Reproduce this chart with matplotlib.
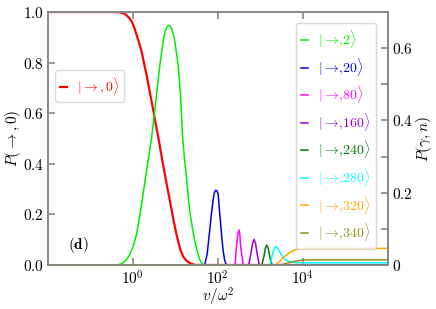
import numpy as np
import matplotlib
matplotlib.use("Agg")
import matplotlib.pyplot as plt
from matplotlib.ticker import FixedLocator, FuncFormatter

plt.rcParams['mathtext.fontset'] = 'cm'
plt.rcParams['font.family'] = ['cmr10', 'DejaVu Serif']
plt.rcParams['axes.formatter.use_mathtext'] = True

# ---- data (log10 of v/omega^2, probability) ----
red_lx = [-2.0, -0.5, -0.306, -0.22, -0.15, -0.09, -0.03, 0.03, 0.086, 0.145, 0.204, 0.26,
          0.322, 0.38, 0.44, 0.5, 0.557, 0.6, 0.655, 0.713, 0.77, 0.83, 0.89, 0.948,
          1.006, 1.066, 1.12, 1.184, 1.26, 1.34, 1.42, 1.5, 6.0]
red_y = [1.0, 1.0, 0.999, 0.995, 0.987, 0.977, 0.963, 0.94, 0.91, 0.879, 0.845, 0.8,
         0.752, 0.7, 0.647, 0.594, 0.54, 0.505, 0.45, 0.396, 0.343, 0.291, 0.238, 0.186,
         0.137, 0.094, 0.06, 0.034, 0.017, 0.008, 0.002, 0.0, 0.0]

n2_lx = [-2.0, -0.5, -0.36, -0.27, -0.17, -0.07, 0.01, 0.086, 0.145, 0.204, 0.26, 0.32,
         0.38, 0.44, 0.5, 0.557, 0.635, 0.713, 0.75, 0.79, 0.825, 0.855, 0.885, 0.92,
         0.955, 0.988, 1.066, 1.122, 1.17, 1.22, 1.264, 1.3, 1.341, 1.4, 1.459, 1.52,
         1.576, 1.65, 6.0]
n2_y = [0.0, 0.0, 0.0005, 0.003, 0.012, 0.029, 0.053, 0.084, 0.124, 0.167, 0.212, 0.259,
        0.305, 0.351, 0.41, 0.471, 0.553, 0.619, 0.641, 0.656, 0.662, 0.663, 0.661, 0.651,
        0.637, 0.619, 0.553, 0.471, 0.356, 0.29, 0.241, 0.195, 0.148, 0.104, 0.066, 0.036,
        0.015, 0.0, 0.0]

n20_lx = [-2.0, 1.69, 1.75, 1.812, 1.85, 1.89, 1.92, 1.953, 1.98, 2.008, 2.03, 2.06,
          2.1, 2.125, 2.16, 2.2, 6.0]
n20_y = [0.0, 0.0, 0.03, 0.097, 0.14, 0.18, 0.2, 0.207, 0.205, 0.198, 0.165, 0.125,
         0.07, 0.042, 0.015, 0.0, 0.0]

n80_lx = [-2.0, 2.41, 2.44, 2.47, 2.5, 2.52, 2.541, 2.6, 6.0]
n80_y = [0.0, 0.0, 0.05, 0.085, 0.097, 0.085, 0.05, 0.0, 0.0]

n160_lx = [-2.0, 2.73, 2.78, 2.82, 2.855, 2.89, 2.93, 2.98, 6.0]
n160_y = [0.0, 0.0, 0.03, 0.06, 0.071, 0.06, 0.03, 0.0, 0.0]

n240_lx = [-2.0, 3.04, 3.09, 3.125, 3.155, 3.19, 3.23, 3.28, 6.0]
n240_y = [0.0, 0.0, 0.025, 0.048, 0.055, 0.046, 0.02, 0.0, 0.0]

n280_lx = [-2.0, 3.23, 3.28, 3.33, 3.365, 3.41, 3.47, 3.53, 3.6, 3.69, 3.8, 4.0, 6.0]
n280_y = [0.0, 0.0, 0.025, 0.046, 0.051, 0.047, 0.034, 0.023, 0.015, 0.009, 0.007, 0.006, 0.006]

n320_lx = [-2.0, 3.36, 3.45, 3.53, 3.61, 3.69, 3.77, 3.84, 3.95, 4.08, 4.3, 6.0]
n320_y = [0.0, 0.0, 0.009, 0.019, 0.027, 0.034, 0.039, 0.043, 0.045, 0.046, 0.046, 0.046]

n340_lx = [-2.0, 3.46, 3.6, 3.77, 3.9, 4.08, 4.3, 6.0]
n340_y = [0.0, 0.0, 0.004, 0.009, 0.012, 0.014, 0.014, 0.014]

series = [
    (n2_lx, n2_y, '#00ee00', r'$|\rightarrow\!,\!2\rangle$'),
    (n20_lx, n20_y, '#0000ee', r'$|\rightarrow\!,\!20\rangle$'),
    (n80_lx, n80_y, '#ff00ff', r'$|\rightarrow\!,\!80\rangle$'),
    (n160_lx, n160_y, '#9a00d0', r'$|\rightarrow\!,\!160\rangle$'),
    (n240_lx, n240_y, '#007a00', r'$|\rightarrow\!,\!240\rangle$'),
    (n280_lx, n280_y, '#00ffff', r'$|\rightarrow\!,\!280\rangle$'),
    (n320_lx, n320_y, '#ffa500', r'$|\rightarrow\!,\!320\rangle$'),
    (n340_lx, n340_y, '#8f8f1f', r'$|\rightarrow\!,\!340\rangle$'),
]

fig = plt.figure(figsize=(4.36, 3.09), dpi=100)
ax = fig.add_axes([48/436, 1-265/309, (387.5-48)/436, (265-12)/309])
ax2 = ax.twinx()

ax.plot(10**np.array(red_lx), red_y, color='red', lw=1.6, label=r'$|\rightarrow, 0\rangle$')
for lx, y, c, lab in series:
    ax2.plot(10**np.array(lx), y, color=c, lw=1.1, label=lab)

ax.set_xscale('log')
ax.set_xlim(1e-2, 1e6)
ax.set_ylim(0, 1.0)
ax2.set_ylim(0, 0.7)

grey = '#888888'
for a in (ax, ax2):
    for s in a.spines.values():
        s.set_color(grey)
        s.set_linewidth(1.2)

ax.xaxis.set_major_locator(FixedLocator([1e0, 1e2, 1e4]))
ax.xaxis.set_minor_locator(FixedLocator([]))
ax.set_yticks([0, 0.2, 0.4, 0.6, 0.8, 1.0])
ax.yaxis.set_major_formatter(FuncFormatter(lambda v, p: r'$%.1f$' % v))
ax2.set_yticks([0, 0.1, 0.2, 0.3, 0.4, 0.5, 0.6, 0.7])
ax2.yaxis.set_major_formatter(FuncFormatter(
    lambda v, p: '' if round(v*10) % 2 else (r'$0$' if abs(v) < 1e-9 else r'$%.1f$' % v)))

ax.tick_params(axis='both', which='both', direction='in', length=5, width=1.2,
               color=grey, labelsize=11, top=True, right=False, pad=3)
ax2.tick_params(axis='y', which='both', direction='in', length=5, width=1.2,
                color=grey, labelsize=11, pad=3)

ax.set_xlabel(r'$v/\omega^2$', fontsize=11, labelpad=-1)
ax.set_ylabel(r'$P(\rightarrow, 0)$', fontsize=11, labelpad=0)
ax2.set_ylabel(r'$P(\gamma, n)$', fontsize=11, labelpad=1)

ax.text(0.06, 0.065, r'$\mathbf{(d)}$', transform=ax.transAxes, fontsize=11)

leg1 = ax.legend(loc='upper left', bbox_to_anchor=((55-48)/340, (265-70)/253),
                 borderaxespad=0, fontsize=10, handlelength=0.5, handletextpad=0.7,
                 borderpad=0.35, labelcolor='linecolor', framealpha=0.8, edgecolor='#d0d0d0')
leg2 = ax2.legend(loc='upper right', bbox_to_anchor=((376.7-48)/340, (265-22.7)/253),
                  borderaxespad=0, fontsize=10, handlelength=0.5, handletextpad=0.7,
                  labelspacing=0.4, labelcolor='linecolor', framealpha=0.8,
                  edgecolor='#d0d0d0')

fig.savefig('out.png', dpi=100)
